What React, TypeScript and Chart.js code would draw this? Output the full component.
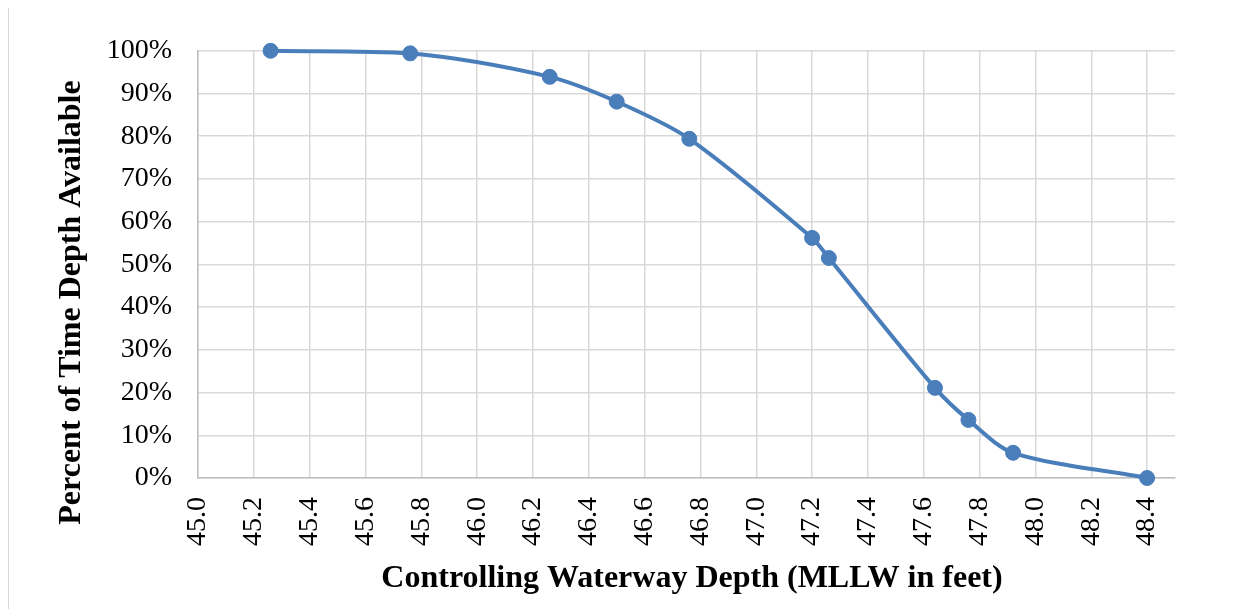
import React, { useEffect, useRef } from "react";
import { Chart, registerables } from "chart.js";

Chart.register(...registerables);

const depths = [45.26, 45.76, 46.26, 46.5, 46.76, 47.2, 47.26, 47.64, 47.76, 47.92, 48.4];
const percents = [100, 99.4, 93.9, 88.1, 79.4, 56.2, 51.5, 21.1, 13.6, 5.9, 0];
const xTickValues = [45.0, 45.2, 45.4, 45.6, 45.8, 46.0, 46.2, 46.4, 46.6, 46.8, 47.0, 47.2, 47.4, 47.6, 47.8, 48.0, 48.2, 48.4];
const yTickValues = [0, 10, 20, 30, 40, 50, 60, 70, 80, 90, 100];
const xTitle = "Controlling Waterway Depth (MLLW in feet)";
const yTitle = "Percent of Time Depth Available";

const SERIF = "'Liberation Serif', 'Times New Roman', serif";
const BLUE = "#4a7ebb";
const GRID = "#d9d9d9";
const AXIS = "#bfbfbf";

const axisTitles = {
  id: "axisTitles",
  afterDraw(chart: any) {
    const ctx = chart.ctx as CanvasRenderingContext2D;
    ctx.save();
    ctx.fillStyle = "#000";
    ctx.font = `bold 32px ${SERIF}`;
    ctx.textAlign = "center";
    ctx.textBaseline = "alphabetic";
    ctx.fillText(xTitle, 683, 579);
    ctx.translate(71, 294.5);
    ctx.rotate(-Math.PI / 2);
    ctx.fillText(yTitle, 0, 0);
    ctx.restore();
  },
};

export default function App() {
  const ref = useRef<HTMLCanvasElement | null>(null);

  useEffect(() => {
    document.body.style.overflow = "hidden";
    const canvas = ref.current;
    if (!canvas) return;
    const chart = new Chart(canvas, {
      type: "line",
      data: {
        datasets: [
          {
            data: depths.map((d, i) => ({ x: d, y: percents[i] })),
            borderColor: BLUE,
            backgroundColor: BLUE,
            borderWidth: 4,
            pointRadius: 7.5,
            pointBorderWidth: 1,
            pointBorderColor: BLUE,
            pointBackgroundColor: BLUE,
            tension: 0.3,
            clip: 12,
          } as any,
        ],
      },
      options: {
        animation: false,
        responsive: true,
        maintainAspectRatio: false,
        layout: { padding: { top: 42, right: 63, left: 44, bottom: 0 } },
        plugins: { legend: { display: false }, tooltip: { enabled: false } },
        scales: {
          x: {
            type: "linear",
            min: 45,
            max: 48.5,
            afterBuildTicks: (s: any) => {
              s.ticks = xTickValues.map((v) => ({ value: v }));
            },
            afterFit: (s: any) => {
              s.height = 131;
            },
            ticks: {
              autoSkip: false,
              minRotation: 90,
              maxRotation: 90,
              padding: 19,
              color: "#000",
              font: { family: SERIF, size: 28 },
              callback: (v: any) => Number(v).toFixed(1),
            },
            grid: { color: GRID, lineWidth: 1.5, drawTicks: false },
            border: { color: AXIS, width: 1.5 },
          },
          y: {
            type: "linear",
            min: 0,
            max: 100,
            afterBuildTicks: (s: any) => {
              s.ticks = yTickValues.map((v) => ({ value: v }));
            },
            afterFit: (s: any) => {
              s.width = 145;
            },
            ticks: {
              padding: 26,
              color: "#000",
              font: { family: SERIF, size: 28 },
              callback: (v: any) => `${v}%`,
            },
            grid: { color: GRID, lineWidth: 1.5, drawTicks: false },
            border: { color: AXIS, width: 1.5 },
          },
        },
      },
      plugins: [axisTitles],
    });
    return () => chart.destroy();
  }, []);

  return (
    <div
      style={{
        marginTop: -1,
        borderTop: "1px solid #d9d9d9",
        borderLeft: "1px solid #d9d9d9",
        width: 1229,
        height: 601,
        position: "relative",
      }}
    >
      <canvas ref={ref} />
    </div>
  );
}
